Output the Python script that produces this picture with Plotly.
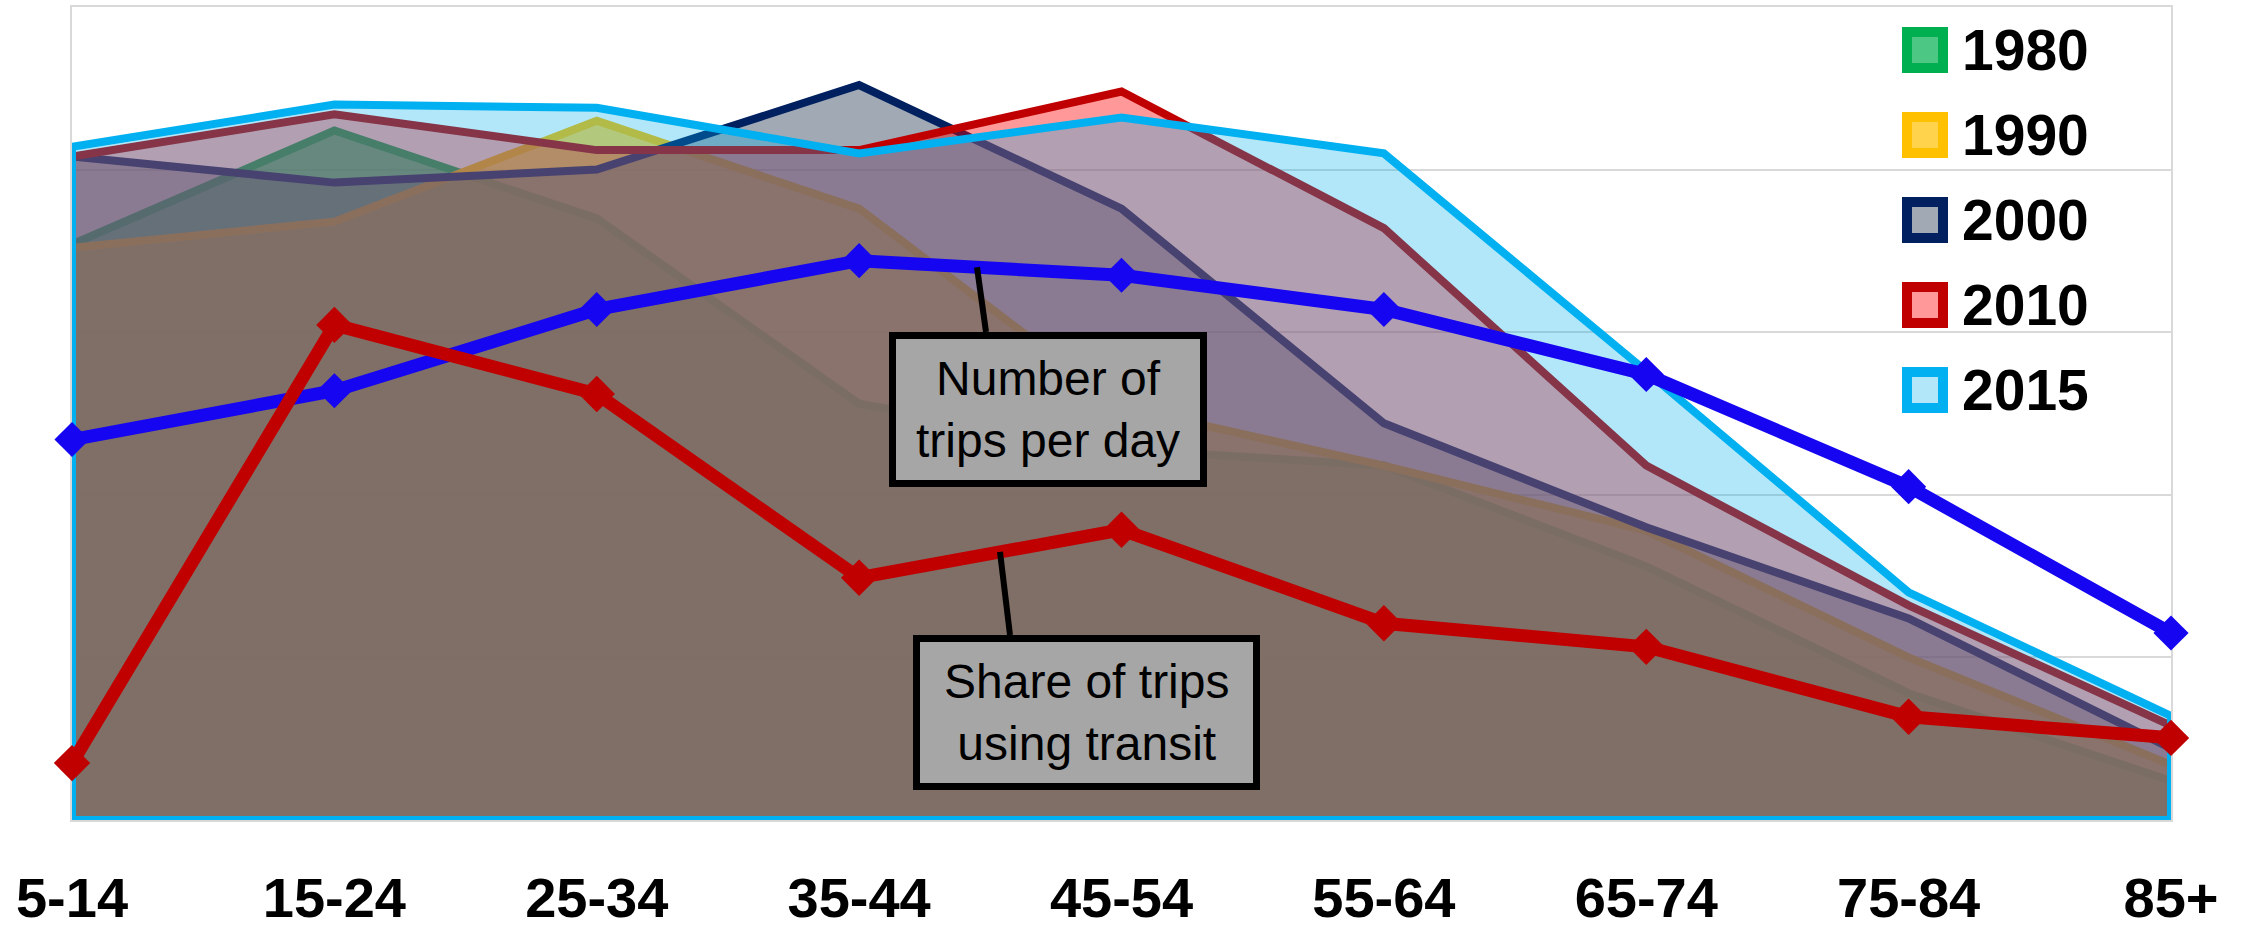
import plotly.graph_objects as go

# Age groups on the category axis
ages = ["5-14", "15-24", "25-34", "35-44", "45-54", "55-64", "65-74", "75-84", "85+"]

# Population by age group for each survey year (area series)
pop_1980 = [17.7, 21.2, 18.5, 12.8, 11.4, 10.9, 7.8, 3.9, 1.2]
pop_1990 = [17.6, 18.4, 21.5, 18.8, 12.7, 10.9, 8.9, 5.0, 1.7]
pop_2000 = [20.4, 19.6, 20.0, 22.6, 18.8, 12.2, 9.0, 6.2, 2.2]
pop_2010 = [20.4, 21.7, 20.6, 20.6, 22.4, 18.2, 10.9, 6.6, 2.9]
pop_2015 = [20.7, 22.0, 21.9, 20.5, 21.6, 20.5, 13.8, 7.0, 3.2]

# Line series
trips_per_day = [2.34, 2.64, 3.14, 3.44, 3.35, 3.14, 2.74, 2.05, 1.15]
transit_share = [0.70, 6.09, 5.24, 2.98, 3.57, 2.42, 2.13, 1.27, 1.01]

years = ["1980", "1990", "2000", "2010", "2015"]
area_series = [pop_1980, pop_1990, pop_2000, pop_2010, pop_2015]
edge_colors = ["#00B050", "#FFC000", "#002060", "#C00000", "#00B0F0"]
fill_colors = ["rgba(0,176,80,0.7)", "rgba(255,192,0,0.7)", "rgba(68,84,106,0.5)",
               "rgba(255,0,0,0.4)", "rgba(0,176,240,0.3)"]

W, H = 2247, 928
L, R, T, B = 72, 2171, 7, 820

idx = list(range(len(ages)))

fig = go.Figure()

# Overlapping areas, each outlined as a closed polygon down to the baseline
for name, vals, ec, fc in zip(years, area_series, edge_colors, fill_colors):
    xs = [idx[0]] + idx + [idx[-1], idx[0]]
    ys = [0] + vals + [0, 0]
    fig.add_trace(go.Scatter(
        x=xs, y=ys, mode="lines", fill="toself", fillcolor=fc,
        line=dict(color=ec, width=8), name=name, showlegend=False,
        hoverinfo="skip", yaxis="y",
    ))

fig.add_trace(go.Scatter(
    x=idx, y=trips_per_day, mode="lines+markers", yaxis="y2",
    line=dict(color="#1505F0", width=13),
    marker=dict(symbol="diamond", size=27, color="#1505F0"),
    cliponaxis=False, showlegend=False, name="Number of trips per day",
))
fig.add_trace(go.Scatter(
    x=idx, y=transit_share, mode="lines+markers", yaxis="y3",
    line=dict(color="#C00000", width=13),
    marker=dict(symbol="diamond", size=28, color="#C00000"),
    cliponaxis=False, showlegend=False, name="Share of trips using transit",
))


def px_x(px):
    return (px - L) / (R - L)


def px_y(py):
    return (B - py) / (B - T)


Y2_MAX, Y3_MAX = 5.0, 10.0
step = (R - L) / (len(ages) - 1)


def interp(vals, pos):
    i = int(pos)
    f = pos - i
    return vals[i] + f * (vals[i + 1] - vals[i])


shapes = []
annotations = []

# Leader from the trips box to the blue line
t_top = (977 - L) / step
shapes.append(dict(type="line", xref="x", yref="y2",
                   x0=t_top, y0=interp(trips_per_day, t_top),
                   x1=(986 - L) / step, y1=(B - 332) / (B - T) * Y2_MAX,
                   line=dict(color="black", width=6), layer="above"))
# Leader from the transit box to the red line
s_top = (1000 - L) / step
shapes.append(dict(type="line", xref="x", yref="y3",
                   x0=s_top, y0=interp(transit_share, s_top),
                   x1=(1010 - L) / step, y1=(B - 635) / (B - T) * Y3_MAX,
                   line=dict(color="black", width=6), layer="above"))

# Callout boxes
for (x0, y0, x1, y1) in [(892.5, 335.5, 1203.5, 483.5), (916.5, 638.5, 1256.5, 786.5)]:
    shapes.append(dict(type="rect", xref="paper", yref="paper",
                       x0=px_x(x0), x1=px_x(x1), y0=px_y(y1), y1=px_y(y0),
                       fillcolor="#A6A6A6", line=dict(color="black", width=7),
                       layer="above"))

annotations.append(dict(text="Number of<br>trips per day", xref="paper", yref="paper",
                        x=px_x(1048), y=px_y(409.5), showarrow=False,
                        xanchor="center", yanchor="middle",
                        font=dict(family="Liberation Sans, Arial, sans-serif", size=48, color="black")))
annotations.append(dict(text="Share of trips<br>using transit", xref="paper", yref="paper",
                        x=px_x(1086.5), y=px_y(712.5), showarrow=False,
                        xanchor="center", yanchor="middle",
                        font=dict(family="Liberation Sans, Arial, sans-serif", size=48, color="black")))

# Legend: boxed swatches with the year labels
for i, (name, ec, fc) in enumerate(zip(years, edge_colors, fill_colors)):
    cy = 50 + 85 * i
    shapes.append(dict(type="rect", xref="paper", yref="paper",
                       x0=px_x(1907), x1=px_x(1943), y0=px_y(cy + 18), y1=px_y(cy - 18),
                       fillcolor="white", line=dict(width=0), layer="above"))
    shapes.append(dict(type="rect", xref="paper", yref="paper",
                       x0=px_x(1907), x1=px_x(1943), y0=px_y(cy + 18), y1=px_y(cy - 18),
                       fillcolor=fc, line=dict(color=ec, width=10), layer="above"))
    annotations.append(dict(text="<b>%s</b>" % name, xref="paper", yref="paper",
                            x=px_x(1960), y=px_y(cy), showarrow=False,
                            xanchor="left", yanchor="middle",
                            font=dict(family="Liberation Sans, Arial, sans-serif", size=57, color="black")))

fig.update_layout(
    width=W, height=H,
    margin=dict(l=L, r=W - R, t=T, b=H - B, pad=0, autoexpand=False),
    paper_bgcolor="white", plot_bgcolor="white",
    xaxis=dict(
        range=[idx[0], idx[-1]], tickvals=idx, ticktext=["<b>%s</b>" % a for a in ages],
        showgrid=False, zeroline=False, showline=True, mirror=True, automargin=False,
        linecolor="#D9D9D9", linewidth=2, layer="below traces",
        ticks="outside", ticklen=28, tickcolor="rgba(0,0,0,0)",
        tickfont=dict(family="Liberation Sans, Arial, sans-serif", size=56, color="black"),
    ),
    yaxis=dict(
        range=[0, 25], dtick=5, showgrid=True, gridcolor="#D9D9D9", gridwidth=2,
        zeroline=False, showticklabels=False, showline=True, mirror=True, automargin=False,
        linecolor="#D9D9D9", linewidth=2, layer="below traces",
    ),
    yaxis2=dict(range=[0, Y2_MAX], overlaying="y", visible=False, automargin=False),
    yaxis3=dict(range=[0, Y3_MAX], overlaying="y", visible=False, automargin=False),
    shapes=shapes, annotations=annotations, showlegend=False,
)

fig.write_html("out.html")
